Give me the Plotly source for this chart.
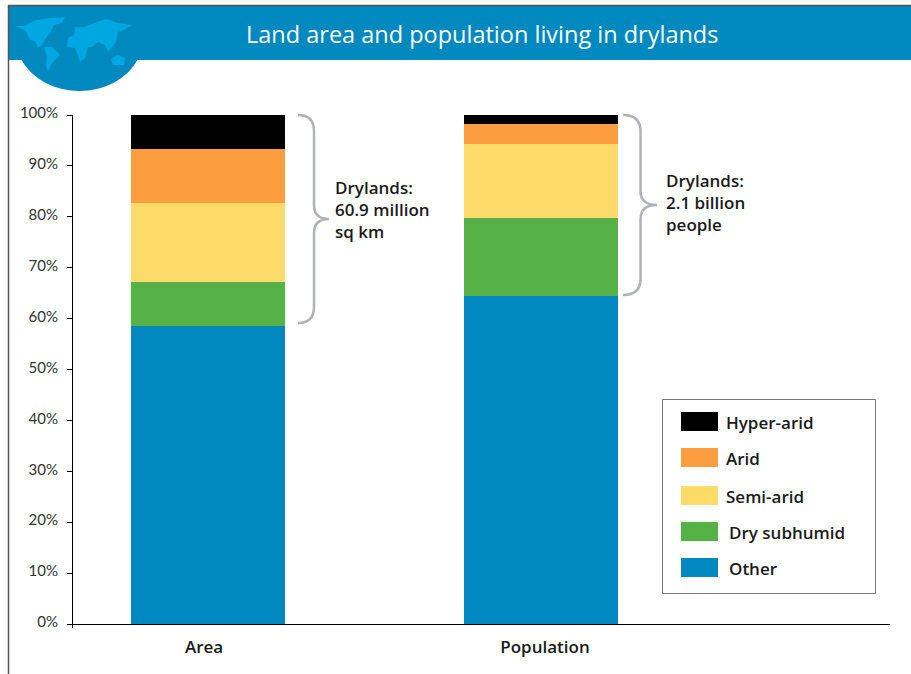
import plotly.graph_objects as go

W, H = 911, 674
L, R, T, B = 73, 890, 115, 624

categories = ["Area", "Population"]
positions = [0, 1]
tick_positions = [-0.012, 1.012]
series_names = ["Other", "Dry subhumid", "Semi-arid", "Arid", "Hyper-arid"]
other = [58.6, 64.44]
dry_subhumid = [8.65, 15.38]
semi_arid = [15.52, 14.48]
arid = [10.49, 3.93]
hyper_arid = [6.74, 1.77]
series_colors = ["#0089C0", "#56B146", "#FFDB69", "#FC9D3F", "#000000"]
y_ticks = list(range(0, 101, 10))
y_labels = [f"{v}%" for v in y_ticks]

FONT = "Open Sans"
INK = "#1a1a1a"

def px(x):
    return (x - L) / (R - L)

def py(y):
    return (B - y) / (B - T)

def path(points, close=True):
    d = "M" + " L".join(f"{px(x):.5f},{py(y):.5f}" for x, y in points)
    return d + (" Z" if close else "")

fig = go.Figure()
for name, vals, col in zip(series_names, [other, dry_subhumid, semi_arid, arid, hyper_arid], series_colors):
    fig.add_trace(go.Bar(x=positions, y=vals, name=name, marker=dict(color=col, line_width=0),
                         width=0.4625, showlegend=False))

shapes = []
def rect(x0, y0, x1, y1, fill, line=None, lw=0, layer="above"):
    shapes.append(dict(type="rect", xref="paper", yref="paper", x0=px(x0), x1=px(x1), y0=py(y0), y1=py(y1),
                       fillcolor=fill, line=dict(color=line or fill, width=lw), layer=layer))

# frame + banner + globe
rect(9, 6, W, 60, "#0089BF", layer="below")
shapes.append(dict(type="line", xref="paper", yref="paper", x0=px(8.5), x1=px(8.5), y0=py(5), y1=py(H),
                   line=dict(color="#555555", width=1.5), layer="below"))
shapes.append(dict(type="line", xref="paper", yref="paper", x0=px(8), x1=px(W), y0=py(5.5), y1=py(5.5),
                   line=dict(color="#555555", width=1.5), layer="below"))
cap = (f"M{px(21)},{py(59)} C{px(44)},{py(101.5)} {px(115)},{py(101.5)} {px(138)},{py(59)} Z")
shapes.append(dict(type="path", xref="paper", yref="paper", path=cap, fillcolor="#0089BF", line_width=0, layer="below"))
land = [
    [(15, 26), (24, 26), (36, 20), (50, 18), (65, 17), (62, 23), (54, 25), (50, 33), (46, 38), (42, 45), (38, 48),
     (35, 41), (30, 40), (26, 31), (20, 28)],
    [(44, 47), (52, 47), (60, 55), (55, 60), (51, 65), (48, 72), (46, 66), (47, 57)],
    [(75, 27), (84, 27), (92, 24), (106, 19), (118, 23), (132, 25), (124, 30), (118, 32), (116, 42), (112, 47), (108, 52),
     (105, 45), (98, 42), (92, 47), (88, 47), (85, 58), (80, 62), (78, 55), (75, 48), (67, 47), (68, 38), (74, 35)],
    [(111, 59), (118, 55), (125, 58), (124, 65), (113, 65)],
]
for poly in land:
    shapes.append(dict(type="path", xref="paper", yref="paper", path=path(poly), fillcolor="#00A7E1",
                       line_width=0, layer="below"))

# axis foot tick
shapes.append(dict(type="line", xref="paper", yref="paper", x0=px(72.5), x1=px(72.5), y0=py(624), y1=py(628),
                   line=dict(color="#000000", width=1)))

# braces
def brace(top, mid, bottom, x0, xm, xt):
    d = (f"M{px(x0)},{py(top)} Q{px(xm)},{py(top)} {px(xm)},{py(top + 16)} L{px(xm)},{py(mid - 14)} "
         f"Q{px(xm)},{py(mid)} {px(xt)},{py(mid)} Q{px(xm)},{py(mid)} {px(xm)},{py(mid + 14)} "
         f"L{px(xm)},{py(bottom - 16)} Q{px(xm)},{py(bottom)} {px(x0)},{py(bottom)}")
    shapes.append(dict(type="path", xref="paper", yref="paper", path=d, line=dict(color="#B0B2B5", width=2.5)))
brace(115, 219, 323, 298, 314, 329)
brace(115, 205, 295, 623, 640.5, 657)

# legend
rect(662.5, 399.5, 875.5, 593.5, "#FFFFFF", "#777777", 1)
legend_rows = list(zip(series_names[::-1], series_colors[::-1], [412, 448, 486, 522, 558], [724, 724, 724, 727, 727]))
annotations = []
for name, col, y, tx in legend_rows:
    rect(681, y, 718, y + 19, col)
    annotations.append(dict(xref="paper", yref="paper", x=px(tx), y=py(y + 10), text=name, showarrow=False,
                            xanchor="left", yanchor="middle", font=dict(family=FONT, size=17, color=INK, weight=600)))

annotations.append(dict(xref="paper", yref="paper", x=px(482), y=py(33.5), text="Land area and population living in drylands",
                        showarrow=False, xanchor="center", yanchor="middle",
                        font=dict(family=FONT, size=23.5, color="#FFFFFF", weight=500)))
annotations.append(dict(xref="paper", yref="paper", x=px(333), y=py(209), align="left", showarrow=False,
                        text="Drylands:<br>60.9 million<br>sq km", xanchor="left", yanchor="middle",
                        font=dict(family=FONT, size=17, color=INK, weight=600)))
annotations.append(dict(xref="paper", yref="paper", x=px(664), y=py(202), align="left", showarrow=False,
                        text="Drylands:<br>2.1 billion<br>people", xanchor="left", yanchor="middle",
                        font=dict(family=FONT, size=17, color=INK, weight=600)))

fig.update_layout(
    width=W, height=H, barmode="stack", autosize=False,
    margin=dict(l=L, r=W - R, t=T, b=H - B, pad=0),
    paper_bgcolor="#FFFFFF", plot_bgcolor="#FFFFFF",
    font=dict(family=FONT), shapes=shapes, annotations=annotations,
    xaxis=dict(range=[-135 / 333, 682 / 333], tickvals=tick_positions, ticktext=categories, ticks="",
               showgrid=False, zeroline=False, showline=True, linecolor="#000000", linewidth=1,
               tickfont=dict(family=FONT, size=17, color=INK, weight=600), ticklabelstandoff=8),
    yaxis=dict(range=[0, 100], tickvals=y_ticks, ticktext=y_labels, ticks="outside", ticklen=5, tickcolor="#000000",
               tickwidth=1, showgrid=False, zeroline=False, showline=True, linecolor="#000000", linewidth=1,
               tickfont=dict(family="Lato", size=15, color="#333333"), ticklabelstandoff=6, ticklabelshift=-2),
)
fig.write_html("out.html", config={"displayModeBar": False}, post_script="document.body.style.margin='0';")
